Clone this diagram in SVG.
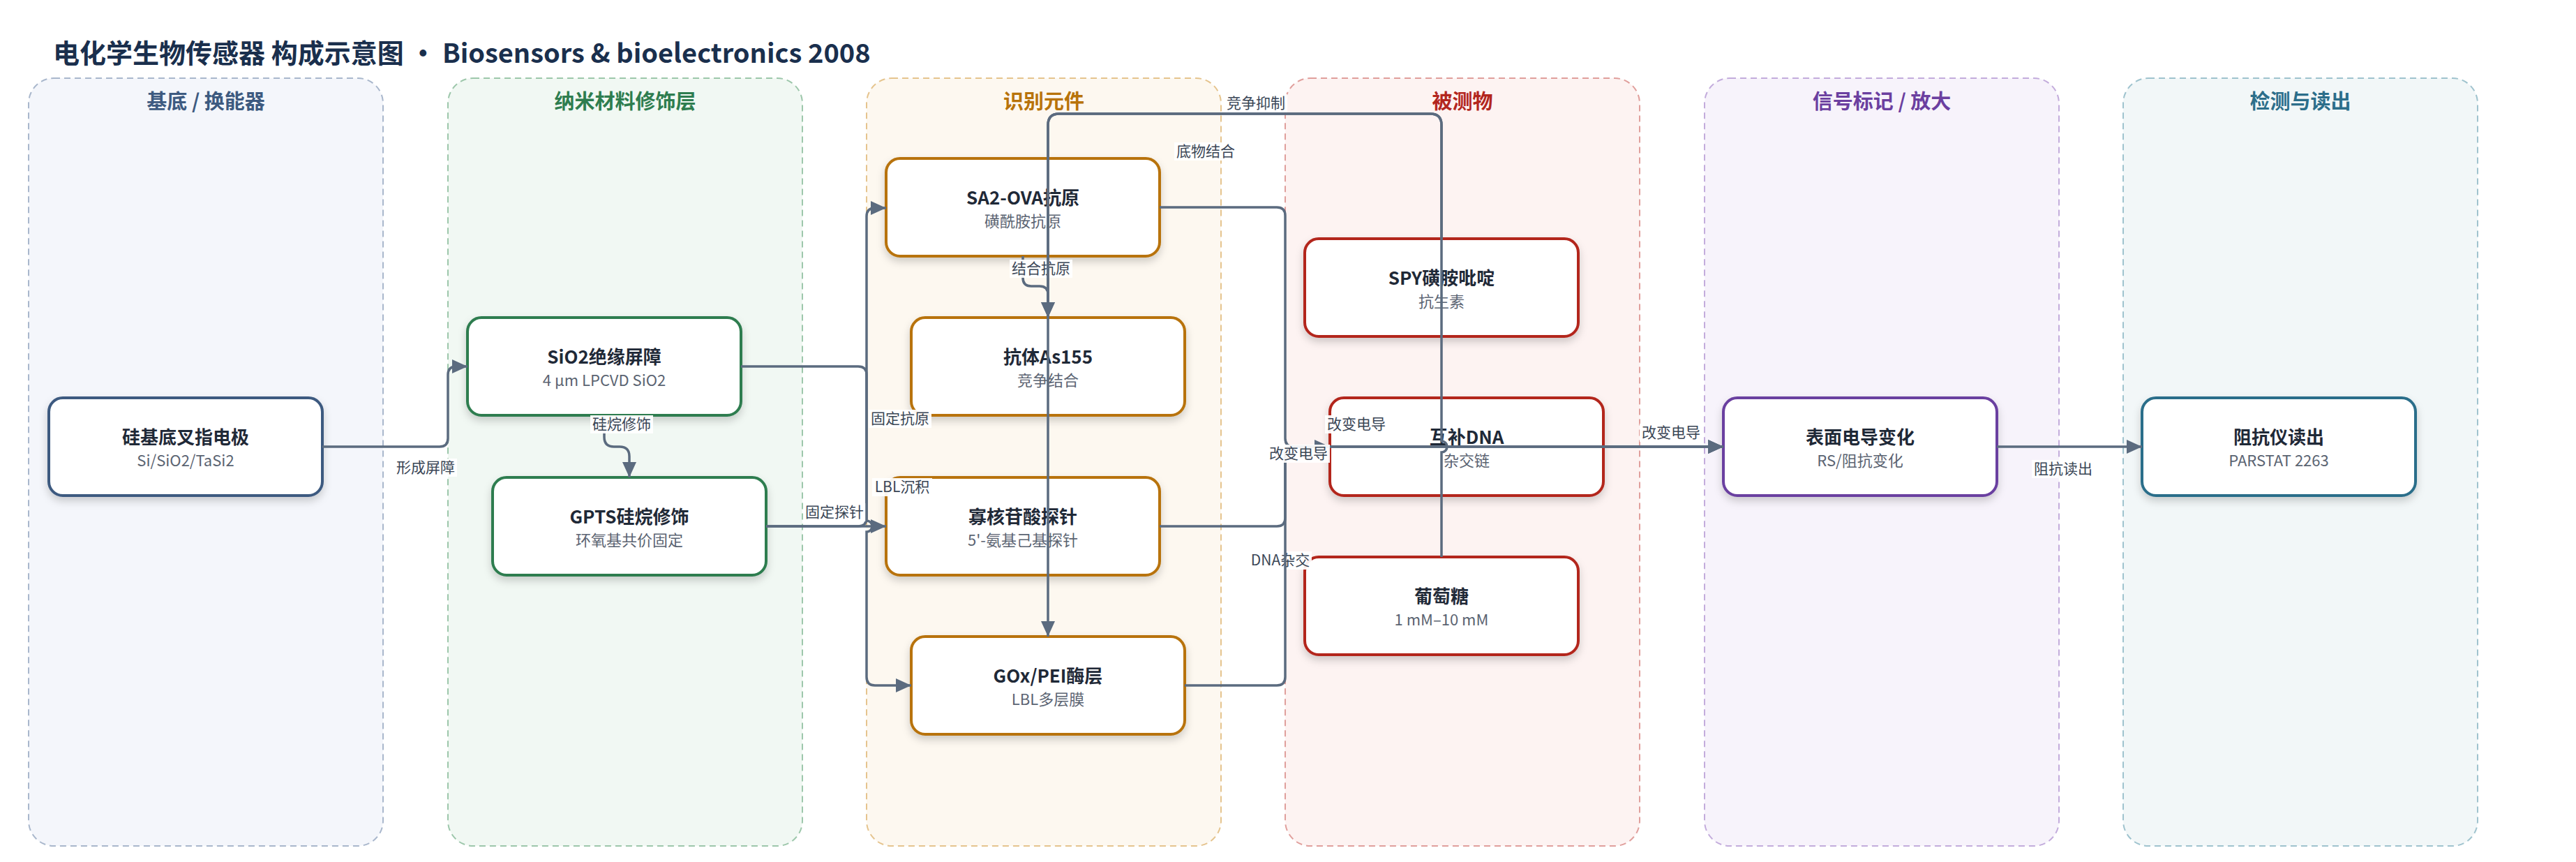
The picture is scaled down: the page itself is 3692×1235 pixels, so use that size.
<svg xmlns="http://www.w3.org/2000/svg" width="3692" height="1235" viewBox="0 0 3692 1235">
<style>
text{font-family:"Noto Sans CJK SC","Noto Sans",sans-serif}
.ttl{font-size:38px;font-weight:700;fill:#1a2f4d}
.lt{font-size:29px;font-weight:700;text-anchor:middle}
.lane{stroke-width:2;stroke-dasharray:9 6}
.nd{fill:#fff;stroke-width:4;filter:url(#sh)}
.nt{font-size:26px;font-weight:700;fill:#1f2937;text-anchor:middle}
.ns{font-size:22px;fill:#5b6472;text-anchor:middle}
.e{fill:none;stroke:#5b6b7f;stroke-width:3.5}
.ea{fill:none;stroke:#5b6b7f;stroke-width:3.5;marker-end:url(#ar)}
.lb{fill:#fff;fill-opacity:.92}
.lx{font-size:21px;fill:#3a4656;text-anchor:middle}
</style>
<defs>
<filter id="sh" x="-10%" y="-10%" width="120%" height="130%">
<feDropShadow dx="0" dy="6" stdDeviation="6" flood-color="#000" flood-opacity="0.18"/>
</filter>
<marker id="ar" markerUnits="userSpaceOnUse" markerWidth="24" markerHeight="22" refX="22" refY="10" orient="auto">
<path d="M0,0 L22,10 L0,20 z" fill="#5b6b7f"/>
</marker>
</defs>
<rect width="3692" height="1235" fill="#fff"/>
<text class="ttl" x="76" y="90">电化学生物传感器 构成示意图 · Biosensors &amp; bioelectronics 2008</text>

<g id="lanes">
<g id="lane1"><rect class="lane" x="41" y="112" width="508" height="1100" rx="36" fill="#f4f6fb" stroke="#a9b7cc"/><text class="lt" x="295" y="156" fill="#3d5a80">基底 / 换能器</text></g>
<g id="lane2"><rect class="lane" x="642" y="112" width="508" height="1100" rx="36" fill="#f1f8f3" stroke="#9dc7ab"/><text class="lt" x="896" y="156" fill="#2e7d4f">纳米材料修饰层</text></g>
<g id="lane3"><rect class="lane" x="1242" y="112" width="508" height="1100" rx="36" fill="#fdf8f0" stroke="#e5c48e"/><text class="lt" x="1496" y="156" fill="#b8730a">识别元件</text></g>
<g id="lane4"><rect class="lane" x="1842" y="112" width="508" height="1100" rx="36" fill="#fdf3f2" stroke="#e09f9c"/><text class="lt" x="2096" y="156" fill="#b3261e">被测物</text></g>
<g id="lane5"><rect class="lane" x="2443" y="112" width="508" height="1100" rx="36" fill="#f7f3fb" stroke="#c3acdc"/><text class="lt" x="2697" y="156" fill="#6b3fa0">信号标记 / 放大</text></g>
<g id="lane6"><rect class="lane" x="3043" y="112" width="508" height="1100" rx="36" fill="#f2f7f8" stroke="#9fc3ce"/><text class="lt" x="3297" y="156" fill="#2c6e8a">检测与读出</text></g>
</g>

<g id="nodes">
<g id="n1"><rect class="nd" x="70" y="570" width="392" height="140" rx="20" stroke="#3d5a80"/><text class="nt" x="266" y="636">硅基底叉指电极</text><text class="ns" x="266" y="668">Si/SiO2/TaSi2</text></g>
<g id="n2"><rect class="nd" x="670" y="455" width="392" height="140" rx="20" stroke="#2e7d4f"/><text class="nt" x="866" y="521">SiO2绝缘屏障</text><text class="ns" x="866" y="553">4 μm LPCVD SiO2</text></g>
<g id="n3"><rect class="nd" x="706" y="684" width="392" height="140" rx="20" stroke="#2e7d4f"/><text class="nt" x="902" y="750">GPTS硅烷修饰</text><text class="ns" x="902" y="782">环氧基共价固定</text></g>
<g id="n4"><rect class="nd" x="1270" y="227" width="392" height="140" rx="20" stroke="#b8730a"/><text class="nt" x="1466" y="293">SA2-OVA抗原</text><text class="ns" x="1466" y="325">磺酰胺抗原</text></g>
<g id="n5"><rect class="nd" x="1306" y="455" width="392" height="140" rx="20" stroke="#b8730a"/><text class="nt" x="1502" y="521">抗体As155</text><text class="ns" x="1502" y="553">竞争结合</text></g>
<g id="n6"><rect class="nd" x="1270" y="684" width="392" height="140" rx="20" stroke="#b8730a"/><text class="nt" x="1466" y="750">寡核苷酸探针</text><text class="ns" x="1466" y="782">5'-氨基己基探针</text></g>
<g id="n7"><rect class="nd" x="1306" y="912" width="392" height="140" rx="20" stroke="#b8730a"/><text class="nt" x="1502" y="978">GOx/PEI酶层</text><text class="ns" x="1502" y="1010">LBL多层膜</text></g>
<g id="n8"><rect class="nd" x="1870" y="342" width="392" height="140" rx="20" stroke="#b3261e"/><text class="nt" x="2066" y="408">SPY磺胺吡啶</text><text class="ns" x="2066" y="440">抗生素</text></g>
<g id="n9"><rect class="nd" x="1906" y="570" width="392" height="140" rx="20" stroke="#b3261e"/><text class="nt" x="2102" y="636">互补DNA</text><text class="ns" x="2102" y="668">杂交链</text></g>
<g id="n10"><rect class="nd" x="1870" y="798" width="392" height="140" rx="20" stroke="#b3261e"/><text class="nt" x="2066" y="864">葡萄糖</text><text class="ns" x="2066" y="896">1 mM–10 mM</text></g>
<g id="n11"><rect class="nd" x="2470" y="570" width="392" height="140" rx="20" stroke="#6b3fa0"/><text class="nt" x="2666" y="636">表面电导变化</text><text class="ns" x="2666" y="668">RS/阻抗变化</text></g>
<g id="n12"><rect class="nd" x="3070" y="570" width="392" height="140" rx="20" stroke="#2c6e8a"/><text class="nt" x="3266" y="636">阻抗仪读出</text><text class="ns" x="3266" y="668">PARSTAT 2263</text></g>
</g>

<g id="connectors">
<path class="ea" d="M462,640 H630 Q642,640 642,628 V537 Q642,525 654,525 H670"/>
<rect class="lb" x="565" y="657" width="90" height="26"/><text class="lx" x="610" y="677">形成屏障</text>

<path class="ea" d="M866,595 V626 Q866,640 880,640 H888 Q902,640 902,654 V684"/>
<rect class="lb" x="846" y="595" width="90" height="26"/><text class="lx" x="891" y="615">硅烷修饰</text>

<path class="ea" d="M1098,754 H1230 Q1242,754 1242,742 V310 Q1242,298 1254,298 H1270"/>
<rect class="lb" x="1245" y="587" width="90" height="26"/><text class="lx" x="1290" y="607">固定抗原</text>

<path class="ea" d="M1098,754 H1270"/>
<rect class="lb" x="1151" y="721" width="90" height="26"/><text class="lx" x="1196" y="741">固定探针</text>

<path class="ea" d="M1062,525 H1230 Q1242,525 1242,537 V746 A8,8 0 0 1 1242,762 V970 Q1242,982 1254,982 H1306"/>
<rect class="lb" x="1250" y="685" width="86" height="26"/><text class="lx" x="1293" y="705">LBL沉积</text>

<path class="ea" d="M1466,367 V398 Q1466,410 1478,410 H1490 Q1502,410 1502,422 V455"/>
<rect class="lb" x="1447" y="372" width="90" height="26"/><text class="lx" x="1492" y="392">结合抗原</text>

<path class="ea" d="M2066,342 V179 Q2066,163 2050,163 H1518 Q1502,163 1502,179 V455"/>
<rect class="lb" x="1755" y="135" width="90" height="26"/><text class="lx" x="1800" y="155">竞争抑制</text>

<path class="ea" d="M2066,798 V648 A8,8 0 0 0 2066,632 V179 Q2066,163 2050,163 H1518 Q1502,163 1502,179 V912"/>
<rect class="lb" x="1683" y="204" width="90" height="26"/><text class="lx" x="1728" y="224">底物结合</text>

<path class="ea" d="M1662,297 H1830 Q1842,297 1842,309 V628 Q1842,640 1854,640 H2470"/>
<rect class="lb" x="1899" y="595" width="90" height="26"/><text class="lx" x="1944" y="615">改变电导</text>

<path class="ea" d="M1662,754 H1830 Q1842,754 1842,742 V652 Q1842,640 1854,640 H1906"/>
<rect class="lb" x="1790" y="790" width="90" height="26"/><text class="lx" x="1835" y="810">DNA杂交</text>

<path class="ea" d="M1698,982 H1830 Q1842,982 1842,970 V652 Q1842,640 1854,640 H2470"/>
<rect class="lb" x="1816" y="637" width="90" height="26"/><text class="lx" x="1861" y="657">改变电导</text>

<path class="ea" d="M2298,640 H2470"/>
<rect class="lb" x="2350" y="607" width="90" height="26"/><text class="lx" x="2395" y="627">改变电导</text>

<path class="ea" d="M2862,640 H3070"/>
<rect class="lb" x="2912" y="659" width="90" height="26"/><text class="lx" x="2957" y="679">阻抗读出</text>
</g>
</svg>
